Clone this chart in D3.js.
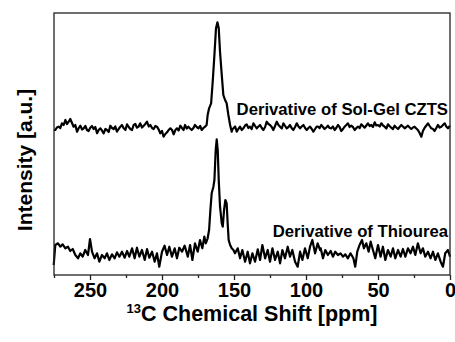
<!DOCTYPE html>
<html>
<head>
<meta charset="utf-8">
<script src="https://cdn.jsdelivr.net/npm/d3@7"></script>
<style>
  body { margin: 0; background: #fff; }
  svg text { font-family: "Liberation Sans", Arial, sans-serif; font-weight: bold; fill: #000; }
</style>
</head>
<body>
<div id="chart"></div>
<script>
// 13C NMR spectra, [ppm, intensity] (arbitrary units)
const solGelCZTS = [
  [275,-3],[274.1,-3],[273,-0.5],[271.8,0.3],[270.6,-1],[269.5,3.7],[268.3,2],[267.1,7],[266,3],
  [264.8,5.3],[263.7,8],[262.5,4],[261.4,0.3],[260.2,2],[259,-4.7],[257.8,-1],[256.7,1.3],[255.5,-2.5],
  [254.4,-1.3],[253.2,1],[252.1,-3],[251,-4],[249.8,-0.7],[248.6,1],[247.5,-2],[246.3,0],[245.1,-6.3],
  [244,-3],[242.8,-1.3],[241.7,-3.5],[240.5,-6.3],[239.3,-2],[238.2,-3],[237,-5],[235.9,1.3],[234.7,-1],
  [233.6,-2],[232.4,0.5],[231.3,-4.7],[230.1,-2],[228.9,0.3],[227.8,2],[226.6,-1.3],[225.4,-3],
  [224.3,2.7],[223.1,0],[222,-2],[220.8,-3],[219.7,2],[218.5,3],[217.4,-0.7],[216.2,0.5],[215.1,3.7],
  [213.9,-0.5],[212.7,1.3],[211.6,3],[210.4,5.3],[209.2,0.5],[208.1,2],[206.9,-1],[205.8,-2],[204.6,1],
  [203.5,0.3],[202.3,-2.5],[201.2,-6.3],[200,-4],[198.9,-9.7],[197.7,-7],[196.5,-5.3],[195.4,-3],
  [194.2,-1.3],[193,-3],[191.9,-7.3],[190.7,-3],[189.6,-1.3],[188.4,-3.5],[187.3,1.3],[186.1,-1],
  [185,-3],[184,2],[182.8,-1.5],[181.7,0.3],[180.5,-1.5],[179.4,-3],[178.2,-1],[177.1,2],[175.9,0],
  [174.7,-1.3],[173.5,1],[172.4,-3],[171.2,-1],[170.1,0.3],[169,2],[168.3,12],
  [167.3,18.7],[165.9,23.7],[164.8,45],[163.6,72],[162.5,98.7],[161.5,104.7],[160.6,98.7],[159.7,75],
  [158.5,52],[157.4,32],[156.2,27],[155.1,23.7],[153.9,12],[152.7,2],[151.6,-4.7],[151,-2],[150.4,-1.3],
  [149.2,0.5],[148.1,-4.7],[147,-2],[145.8,0.3],[144.6,-3],[143.5,-1.3],[142.3,1.5],[141.2,2.7],[140,-1],
  [138.9,0.3],[137.7,-2],[136.5,3.7],[135.3,1],[134.2,-1.3],[133,0.5],[131.9,2],[130.7,-1],[129.6,-3],
  [128.4,0],[127.3,5.3],[126.1,3],[125,2],[123.8,0],[122.7,-3],[121.5,1],[120.3,5.3],[119.1,2],[118,0.3],
  [116.8,-1.5],[115.7,3.7],[114.5,1],[113.4,-1.3],[112.2,0],[111.1,2],[110,-1],[108.8,-3],[107.6,0],
  [106.4,3.7],[105.2,0.5],[104.1,-1.3],[103,0.5],[101.8,2],[100.6,-1],[99.5,-3],[98.3,-1],[97.2,0.3],
  [96,-2],[94.9,-4.7],[93.7,-2],[92.6,0.3],[91.7,0.3],[90.5,-1],[89.4,2],[88.2,0],[87.1,-2],[85.9,-0.5],
  [84.8,1.3],[83.6,-1],[82.4,-1.3],[81.3,0.5],[80.1,-3],[79,-1],[77.8,2],[76.7,0],[75.5,-4],[74.3,-2],
  [73.2,0.3],[72,2],[70.9,3.7],[69.7,0],[68.6,1.3],[67.4,0],[66.2,-3],[65,-1],[63.9,0.3],[62.7,-1],
  [61.6,2.7],[60.4,1],[59.3,-0.7],[58.1,1.5],[57,3.7],[55.8,1],[54.7,2],[53.5,0],[52.3,4.7],[51.2,1.5],
  [50,2],[48.8,0.5],[47.7,3.7],[46.5,1.5],[45.4,0.3],[44.2,-1.5],[43.1,2.7],[42,1],[40.8,-0.7],[39.6,-2],
  [38.5,1.3],[37.3,-0.5],[36.1,-2],[35,0],[33.8,2],[32.7,0.5],[31.5,-1.3],[30.3,0],[29.2,1.3],[28,-0.5],
  [26.9,-2],[25.7,-0.5],[24.6,0.3],[23.4,-1.5],[22.3,-3],[21.1,-6],[19.9,-9.7],[18.8,-4],[17.6,-0.7],
  [16.4,1.5],[15.3,3.7],[14.1,1],[13,-1.3],[11.8,-2],[10.7,-4],[9.5,-1],[8.4,2],[7.2,-0.5],[6,0.3],
  [4.9,2],[3.7,3.7],[2.6,0.5],[1.4,-1.3],[0,1.3]
];

const thiourea = [
  [275.2,-10],[274.1,10],[272.2,11.7],[270.6,8.3],[269,10.7],[267.1,6.7],[265.3,8.3],[263.7,4],
  [262,6],[260.2,0],[258.3,-3.3],[256.7,1.7],[255.1,-1.7],[253.3,5],[251.4,0],[250,16],[248.6,3.3],
  [246.8,-3.3],[245.1,1.7],[243.5,-6.7],[241.7,0],[239.8,-3.3],[238.2,1.7],[236.6,-5],[234.7,0.7],
  [232.9,-3.3],[231.3,2.7],[229.6,-1.7],[227.8,3.3],[225.9,-2.7],[224.3,4],[222.7,-1.7],[220.8,6.7],
  [219,-3.3],[217.4,7.3],[215.7,-1.7],[213.9,5],[212,-5],[210.4,6],[208.8,-2.7],[206.9,3.3],
  [205.1,-6.7],[203.5,1.7],[201.9,-11.7],[200,3.3],[198.2,9.3],[196.5,0],[194.9,8.3],[193.1,-1.7],
  [191.2,6.7],[189.6,-3.3],[188,7.3],[186.1,3.3],[184.3,9.3],[184,8.3],[182.1,-1.7],[180.5,10],
  [178.9,-5],[177.1,11.7],[175.2,3.3],[173.6,15],[172,6.7],[170.6,18.3],[169.6,11.7],[168.3,16.7],
  [167.3,25],[166.4,45],[165.5,61.7],[164.3,68.3],[163.6,75],[162.7,105],[162,115.7],[161.3,105],
  [160.6,75],[159.7,48.3],[158.5,31.7],[157.8,28.3],[156.9,45],[156,55],[155.1,51.7],[154.4,31.7],
  [153.7,15],[152.7,10],[151.6,6.7],[150.4,5],[149.3,1.7],[147.4,6.7],[145.8,-3.3],[144.2,5],
  [142.3,-6.7],[140.5,3.3],[138.9,-8.3],[137.2,1.7],[135.4,-6.7],[133.5,5.7],[131.9,-5],[130.3,10],
  [128.4,-3.3],[126.6,5],[125,-6.7],[123.3,6.7],[121.5,-5],[119.6,3.3],[118,-8.3],[116.4,5],
  [114.6,-3.3],[112.7,8.3],[111.1,-1.7],[109.5,5],[107.6,-6.7],[105.8,-11.7],[104.1,3.3],[102.5,-5],
  [100.7,6.7],[98.8,-3.3],[97.2,8.3],[95.6,15],[93.7,1.7],[91.9,11.7],[90.2,5],[89.8,6.7],
  [88.2,-3.3],[86.6,5],[84.8,0],[82.9,4],[81.3,-1.7],[79.7,3.3],[77.8,0],[76,1.7],[74.3,-1.7],
  [72.7,0.7],[70.9,-3.3],[69.1,1.7],[67.1,-3.3],[65.8,-11.7],[64.4,3.3],[62.8,10],[61.1,15],
  [59.8,6.7],[58.1,11.7],[56.5,3.3],[55.1,13.3],[53.5,5],[51.9,-3.3],[50,10],[48.2,-1.7],[46.6,8.3],
  [44.9,-5],[43.1,5],[41.2,-1.7],[39.6,6.7],[38,-3.3],[36.1,5],[34.3,-1.7],[32.7,6],[31,-1.7],
  [29.2,6.7],[27.4,1.7],[25.7,8.3],[24.1,0],[22.3,11.7],[20.4,1.7],[18.8,6.7],[17.2,-1.7],[15.3,3.3],
  [13.5,-3.3],[11.8,3.3],[10.2,-5],[8.4,1.7],[6.5,-6.7],[4.9,-11.7],[3.3,1.7],[1.4,5],[0,-1.7]
];

const majorTicks = [250, 200, 150, 100, 50, 0];
const minorTicks = [275, 225, 175, 125, 75, 25];
const spectrumLabels = ['Derivative of Sol-Gel CZTS', 'Derivative of Thiourea'];

const width = 455;
const height = 342;
const margin = {top: 13, right: 5, bottom: 67, left: 54};
const upperOffset = 128; // stacking offset for the Sol-Gel spectrum

const svg = d3.select('#chart').append('svg')
  .attr('width', width)
  .attr('height', height);

const xScale = d3.scaleLinear()
  .domain([275, 0])
  .range([margin.left, width - margin.right]);

const yScale = d3.scaleLinear()
  .domain([-20, 242])
  .range([height - margin.bottom, margin.top]);

const line = d3.line()
  .x(d => xScale(d[0]))
  .y(d => yScale(d[1]));

/* spectra */
svg.append('path')
  .datum(thiourea)
  .attr('d', line)
  .style('fill', 'none')
  .style('stroke', '#000')
  .style('stroke-width', 2.2)
  .style('stroke-linejoin', 'round');

svg.append('path')
  .datum(solGelCZTS.map(d => [d[0], d[1] + upperOffset]))
  .attr('d', line)
  .style('fill', 'none')
  .style('stroke', '#000')
  .style('stroke-width', 2.2)
  .style('stroke-linejoin', 'round');

/* frame */
svg.append('rect')
  .attr('x', margin.left)
  .attr('y', margin.top)
  .attr('width', width - margin.left - margin.right)
  .attr('height', height - margin.top - margin.bottom)
  .style('fill', 'none')
  .style('stroke', '#222')
  .style('stroke-width', 1.3);

/* x axis */
const xAxis = d3.axisBottom(xScale)
  .tickValues(majorTicks)
  .tickSize(5)
  .tickSizeOuter(0)
  .tickFormat(d3.format('d'));

const gx = svg.append('g')
  .attr('transform', `translate(0, ${height - margin.bottom})`)
  .call(xAxis);
gx.select('.domain').remove();
gx.selectAll('line').style('stroke', '#222').style('stroke-width', 1.3);
gx.selectAll('text')
  .attr('y', 22)
  .attr('dy', 0)
  .style('font-size', '20px');

const gxMinor = svg.append('g')
  .attr('transform', `translate(0, ${height - margin.bottom})`)
  .call(d3.axisBottom(xScale).tickValues(minorTicks).tickSize(3).tickFormat(''));
gxMinor.select('.domain').remove();
gxMinor.selectAll('line').style('stroke', '#222').style('stroke-width', 1.3);

/* axis titles */
const xTitle = svg.append('text')
  .attr('x', (margin.left + width - margin.right) / 2)
  .attr('y', 321)
  .attr('text-anchor', 'middle')
  .style('font-size', '21.5px');
xTitle.append('tspan').text('13').style('font-size', '13px').attr('dy', -8);
xTitle.append('tspan').text('C Chemical Shift [ppm]').attr('dy', 8);

svg.append('text')
  .attr('transform', 'translate(32, 160) rotate(-90)')
  .attr('text-anchor', 'middle')
  .style('font-size', '21px')
  .text('Intensity [a.u.]');

/* spectrum labels */
svg.selectAll('.spec-label')
  .data(spectrumLabels)
  .enter()
  .append('text')
  .attr('class', 'spec-label')
  .attr('x', width - margin.right - 2)
  .attr('y', (d, i) => i === 0 ? 115 : 237)
  .attr('text-anchor', 'end')
  .style('font-size', '16.7px')
  .text(d => d);
</script>
</body>
</html>
